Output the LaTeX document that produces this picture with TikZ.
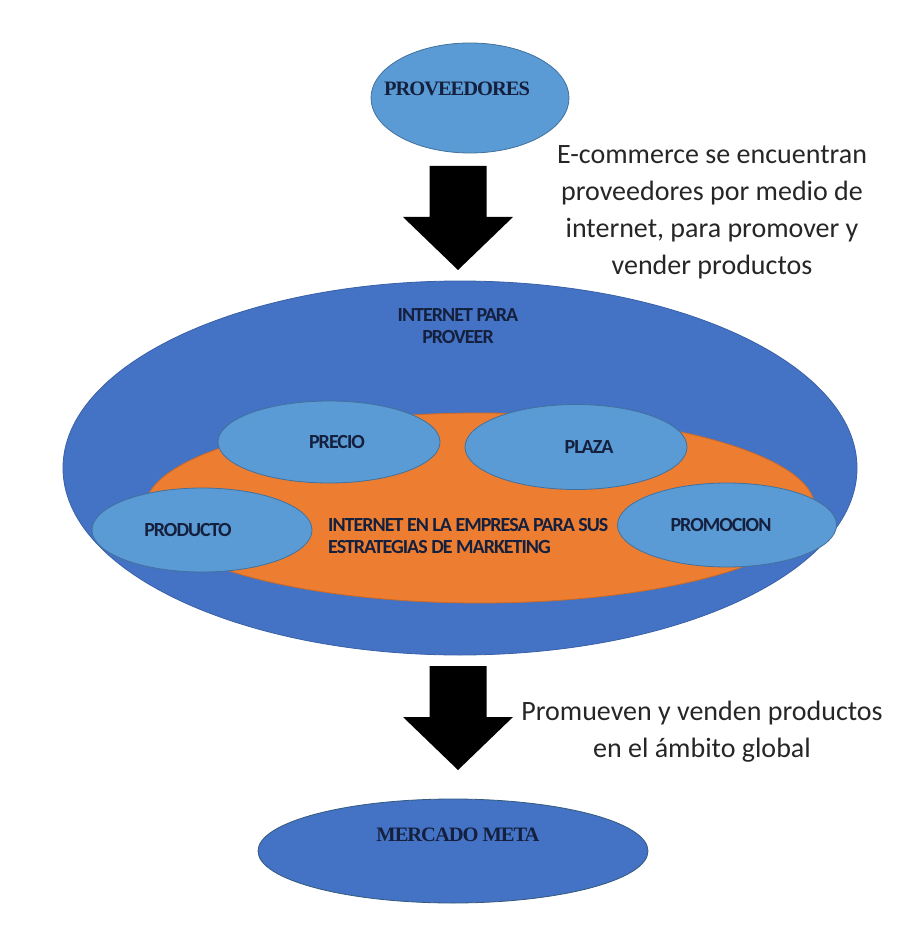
\documentclass[tikz,border=0pt]{standalone}
\usepackage{fontspec}
\setmainfont{Carlito}
\newfontfamily\serifbf{Liberation Serif}[LetterSpace=-5]
\newfontfamily\tagbf{Carlito}[LetterSpace=-5]
\usetikzlibrary{shapes.geometric}
\definecolor{blu}{RGB}{68, 114, 196}
\definecolor{lbl}{RGB}{91, 155, 213}
\definecolor{ora}{RGB}{237, 125, 49}
\definecolor{ink}{RGB}{20, 32, 62}
\definecolor{rim}{RGB}{65, 113, 156}

\tikzset{
  blob/.style={ellipse, inner sep=0pt, line width=0.8pt},
  lite/.style={blob, fill=lbl, draw=rim},
  tag/.style={font=\tagbf\bfseries\fontsize{20}{22}\selectfont, text=ink, align=center, inner sep=0pt},
  serif tag/.style={font=\serifbf\bfseries\fontsize{20.5}{22}\selectfont, text=ink, inner sep=0pt},
  note/.style={font=\fontsize{28}{37}\selectfont, text=black!85, align=center, inner sep=0pt},
  blockarrow/.pic={\fill[black] (-28.5,0) -- (28.5,0) -- (28.5,51) -- (55,51) -- (0,104) -- (-55,51) -- (-28.5,51) -- cycle;}
}

\begin{document}
\begin{tikzpicture}[x=1pt, y=-1pt]
  \useasboundingbox (0,0) rectangle (900,941);

  % proveedores
  \node[lite, minimum width=198pt, minimum height=110pt] (prov) at (470,98) {};
  \node[serif tag] (provtxt) at (457,89) {PROVEEDORES};
  \pic at (458,166) {blockarrow};
  \node[note] (note1) at (712,212) {E-commerce se encuentran\\proveedores por medio de\\internet, para promover y\\vender productos};

  % internet
  \node[blob, fill=blu, draw=blu!85!black, minimum width=794pt, minimum height=374pt] (net) at (460,468) {};
  \node[tag] (nettxt) at (458,326) {INTERNET PARA\\PROVEER};
  \node[blob, fill=ora, draw=ora!85!black, minimum width=670pt, minimum height=190pt] (firm) at (480,508) {};

  \node[lite, minimum width=222pt, minimum height=82pt, label={[tag, xshift=8pt]center:PRECIO}] (precio) at (329,442) {};
  \node[lite, minimum width=222pt, minimum height=85pt, label={[tag, xshift=13pt]center:PLAZA}] (plaza) at (576,447) {};
  \node[lite, minimum width=220pt, minimum height=84pt, label={[tag, xshift=-14pt]center:PRODUCTO}] (producto) at (202,530) {};
  \node[lite, minimum width=219pt, minimum height=84pt, label={[tag, xshift=-6pt]center:PROMOCION}] (promocion) at (727,525) {};
  \node[tag, anchor=west, align=left] (firmtxt) at (328,536) {INTERNET EN LA EMPRESA PARA SUS\\ESTRATEGIAS DE MARKETING};

  % mercado
  \pic at (458,666) {blockarrow};
  \node[note] (note2) at (702,732) {Promueven y venden productos\\en el ámbito global};
  \node[blob, fill=blu, draw=rim!80!black, minimum width=390pt, minimum height=104pt] (meta) at (453,851) {};
  \node[serif tag] (metatxt) at (458,835) {MERCADO META};
\end{tikzpicture}
\end{document}
